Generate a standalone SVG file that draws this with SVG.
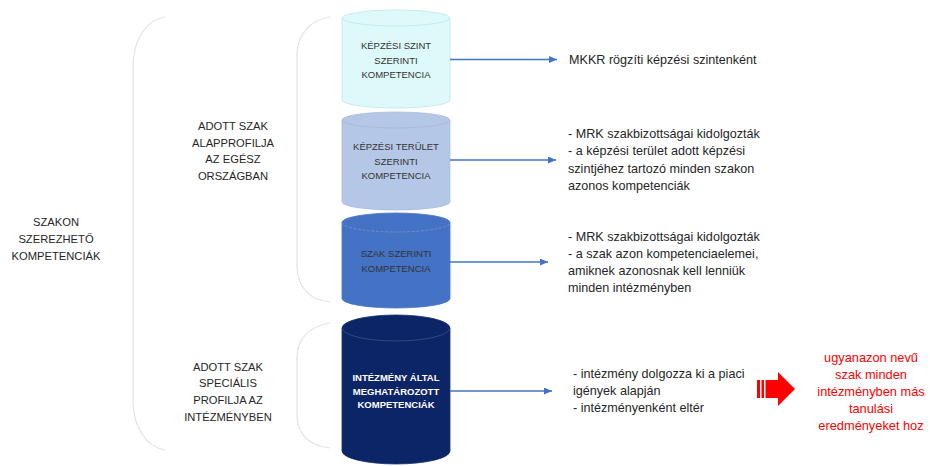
<svg xmlns="http://www.w3.org/2000/svg" width="930" height="466" viewBox="0 0 930 466">
<style>
.brace{fill:none;stroke:#e3e3e3;stroke-width:1.2}
.lbl{font-family:"Liberation Sans",Arial,sans-serif;font-size:11.2px;fill:#262626;text-anchor:middle}
.cyl{font-family:"Liberation Sans",Arial,sans-serif;font-size:9.5px;fill:#333;text-anchor:middle}
.cylw{font-family:"Liberation Sans",Arial,sans-serif;font-size:9.5px;fill:#fff;font-weight:bold;text-anchor:middle}
.desc{font-family:"Liberation Sans",Arial,sans-serif;font-size:12.6px;fill:#262626}
.red{font-family:"Liberation Sans",Arial,sans-serif;font-size:12.8px;fill:#ff0000;text-anchor:middle}
.conn{stroke:#4472c4;stroke-width:1.3;fill:none;marker-end:url(#ah)}
</style>
<defs>
<marker id="ah" markerUnits="userSpaceOnUse" markerWidth="9" markerHeight="8" refX="8" refY="3.5" orient="auto">
<path d="M0,0 L8,3.5 L0,7 Z" fill="#4472c4"/>
</marker>
</defs>
<rect width="930" height="466" fill="#fff"/>

<g id="braces">
<path class="brace" d="M165,17 C146,20 133,40 133,67 V400 C133,427 146,447 165,450"/>
<path class="brace" d="M330,17 C310,20 297,35 297,55 V265 C297,288 310,300 330,302"/>
<path class="brace" d="M330,323 C310,326 297,338 297,358 V415 C297,435 310,446 330,448"/>
</g>

<g id="left-labels">
<text class="lbl" x="56" y="226">SZAKON</text>
<text class="lbl" x="56" y="243">SZEREZHETŐ</text>
<text class="lbl" x="56" y="260">KOMPETENCIÁK</text>
</g>
<g id="alapprofil">
<text class="lbl" x="233" y="130">ADOTT SZAK</text>
<text class="lbl" x="233" y="147">ALAPPROFILJA</text>
<text class="lbl" x="233" y="163">AZ EGÉSZ</text>
<text class="lbl" x="233" y="180">ORSZÁGBAN</text>
</g>
<g id="specialis">
<text class="lbl" x="228" y="371">ADOTT SZAK</text>
<text class="lbl" x="228" y="387">SPECIÁLIS</text>
<text class="lbl" x="228" y="404">PROFILJA AZ</text>
<text class="lbl" x="228" y="421">INTÉZMÉNYBEN</text>
</g>

<g id="cyl1">
<path d="M342,18 V100 A54,8 0 0 0 450,100 V18 A54,8 0 0 0 342,18 Z" fill="#ddf9f9" stroke="#c2e6e6" stroke-width="0.8"/>
<path d="M342,18 A54,8 0 0 0 450,18" fill="none" stroke="#c2e6e6" stroke-width="0.8"/>
<text class="cyl" x="396" y="48.5">KÉPZÉSI SZINT</text>
<text class="cyl" x="396" y="63.5">SZERINTI</text>
<text class="cyl" x="396" y="77.5">KOMPETENCIA</text>
</g>
<g id="cyl2">
<path d="M342,120 V202 A54,8 0 0 0 450,202 V120 A54,8 0 0 0 342,120 Z" fill="#b4c7e7" stroke="#a9bde0" stroke-width="0.8"/>
<path d="M342,120 A54,8 0 0 0 450,120" fill="none" stroke="#a3b7da" stroke-width="0.8"/>
<text class="cyl" x="396" y="150">KÉPZÉSI TERÜLET</text>
<text class="cyl" x="396" y="165">SZERINTI</text>
<text class="cyl" x="396" y="178.5">KOMPETENCIA</text>
</g>
<g id="cyl3">
<path d="M342,222.5 V298.5 A54,9.5 0 0 0 450,298.5 V222.5 A54,9.5 0 0 0 342,222.5 Z" fill="#4472c4" stroke="#4a76c6" stroke-width="0.8"/>
<path d="M342,222.5 A54,9.5 0 0 0 450,222.5" fill="none" stroke="#7896d2" stroke-width="0.8" stroke-dasharray="3 1.5"/>
<text class="cyl" x="396" y="256.5">SZAK SZERINTI</text>
<text class="cyl" x="396" y="271.5">KOMPETENCIA</text>
</g>
<g id="cyl4">
<path d="M342,328 V451 A54,13 0 0 0 450,451 V328 A54,13 0 0 0 342,328 Z" fill="#0c2566" stroke="#14306e" stroke-width="0.8"/>
<path d="M342,328 A54,13 0 0 0 450,328" fill="none" stroke="#3a5388" stroke-width="0.8"/>
<text class="cylw" x="396" y="380.5">INTÉZMÉNY ÁLTAL</text>
<text class="cylw" x="396" y="394.5">MEGHATÁROZOTT</text>
<text class="cylw" x="396" y="407.5">KOMPETENCIÁK</text>
</g>

<g id="connectors">
<line class="conn" x1="450" y1="59.5" x2="557" y2="59.5"/>
<line class="conn" x1="450" y1="160" x2="556" y2="160"/>
<line class="conn" x1="450" y1="262" x2="548" y2="262"/>
<line class="conn" x1="450" y1="391" x2="552" y2="391"/>
</g>

<g id="desc1">
<text class="desc" x="569" y="64">MKKR rögzíti képzési szintenként</text>
</g>
<g id="desc2">
<text class="desc" x="568" y="137.5">- MRK szakbizottságai kidolgozták</text>
<text class="desc" x="568" y="155">- a képzési terület adott képzési</text>
<text class="desc" x="568" y="172.5">szintjéhez tartozó minden szakon</text>
<text class="desc" x="568" y="190">azonos kompetenciák</text>
</g>
<g id="desc3">
<text class="desc" x="568" y="241">- MRK szakbizottságai kidolgozták</text>
<text class="desc" x="568" y="258">- a szak azon kompetenciaelemei,</text>
<text class="desc" x="568" y="275">amiknek azonosnak kell lenniük</text>
<text class="desc" x="568" y="292">minden intézményben</text>
</g>
<g id="desc4">
<text class="desc" x="573" y="377.5">- intézmény dolgozza ki a piaci</text>
<text class="desc" x="573" y="394.5">igények alapján</text>
<text class="desc" x="573" y="411.5">- intézményenként eltér</text>
</g>

<g id="red-arrow" fill="#ff0000">
<rect x="757" y="380" width="3" height="18"/>
<rect x="761.5" y="380" width="2.5" height="18"/>
<path d="M765.5,380 H778 V372 L795,389 L778,406 V398 H765.5 Z"/>
</g>
<g id="result">
<text class="red" x="871" y="361.5">ugyanazon nevű</text>
<text class="red" x="871" y="378.5">szak minden</text>
<text class="red" x="871" y="395.5">intézményben más</text>
<text class="red" x="871" y="412.5">tanulási</text>
<text class="red" x="871" y="429.5">eredményeket hoz</text>
</g>
</svg>
